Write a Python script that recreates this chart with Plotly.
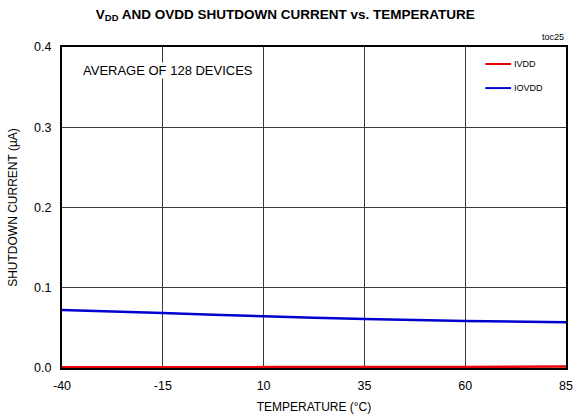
import plotly.graph_objects as go

temperature = [-40, -15, 10, 35, 60, 85]
ivdd = [0.0010, 0.0010, 0.0011, 0.0012, 0.0014, 0.0018]
iovdd = [0.0722, 0.0685, 0.0645, 0.0610, 0.0586, 0.0570]

x_ticks = [-40, -15, 10, 35, 60, 85]
x_tick_labels = ["-40", "-15", "10", "35", "60", "85"]
y_ticks = [0.0, 0.1, 0.2, 0.3, 0.4]
y_tick_labels = ["0.0", "0.1", "0.2", "0.3", "0.4"]

series = [("IVDD", ivdd, "#e8000b"), ("IOVDD", iovdd, "#0000d0")]

FONT = "Liberation Sans, Arial, sans-serif"

fig = go.Figure()
for name, vals, color in series:
    fig.add_trace(go.Scatter(x=temperature, y=vals, mode="lines", name=name,
                             line=dict(color=color, width=2.5, shape="spline", smoothing=0.6),
                             showlegend=False, hoverinfo="skip"))

# manual legend
shapes = []
annotations = []
leg_y = [0.947, 0.872]
for (name, vals, color), ly in zip(series, leg_y):
    shapes.append(dict(type="line", xref="paper", yref="paper", x0=0.840, x1=0.891,
                       y0=ly, y1=ly, line=dict(color=color, width=2)))
    annotations.append(dict(xref="paper", yref="paper", x=0.893, y=ly, text=name,
                            showarrow=False, xanchor="left", yanchor="middle",
                            font=dict(size=9, family=FONT, color="#000")))

annotations.append(dict(xref="paper", yref="paper", x=0.040, y=0.927,
                        text="AVERAGE OF 128 DEVICES", showarrow=False,
                        xanchor="left", yanchor="middle", bgcolor="white", borderpad=0,
                        font=dict(size=13, family=FONT, color="#000")))
annotations.append(dict(xref="paper", yref="paper", x=1.0, y=1.008,
                        text="toc25", showarrow=False, xanchor="right", yanchor="bottom",
                        font=dict(size=9, family=FONT, color="#000")))

fig.update_layout(
    width=574, height=420,
    margin=dict(l=62, r=8, t=47, b=52, autoexpand=False),
    paper_bgcolor="white", plot_bgcolor="white",
    title=dict(text="<b>V<sub>DD</sub> AND OVDD SHUTDOWN CURRENT vs. TEMPERATURE</b>",
               x=0.497, xanchor="center", y=0.967, yanchor="middle", automargin=False,
               font=dict(size=13.5, family=FONT, color="#000")),
    shapes=shapes, annotations=annotations,
    xaxis=dict(range=[-40, 85], tickvals=x_ticks, ticktext=x_tick_labels, ticks="",
               showgrid=True, automargin=False, ticklabelstandoff=5,
               gridcolor="#3a3a3a", gridwidth=1, zeroline=False,
               showline=True, linecolor="#000", linewidth=2, mirror=True,
               tickfont=dict(size=12.5, family=FONT, color="#000"),
               title=dict(text="TEMPERATURE (°C)", standoff=11,
                          font=dict(size=12, family=FONT, color="#000"))),
    yaxis=dict(range=[0, 0.4], tickvals=y_ticks, ticktext=y_tick_labels, ticks="",
               showgrid=True, automargin=False, ticklabelstandoff=6,
               gridcolor="#3a3a3a", gridwidth=1, zeroline=False,
               showline=True, linecolor="#000", linewidth=2, mirror=True,
               tickfont=dict(size=12.5, family=FONT, color="#000"),
               title=dict(text="SHUTDOWN CURRENT (µA)", standoff=14,
                          font=dict(size=12, family=FONT, color="#000"))),
)

fig.write_html("out.html", config={"displayModeBar": False},
               post_script="document.body.style.margin='0';")
